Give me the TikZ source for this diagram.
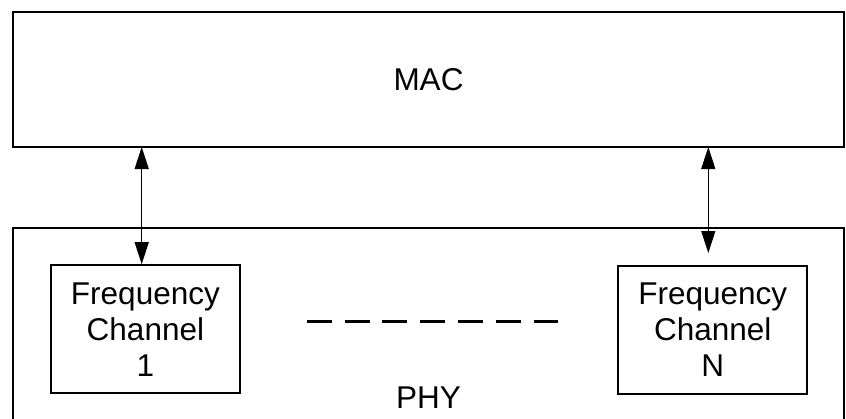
\documentclass[tikz,border=0pt]{standalone}
\usepackage{fontspec}
\setmainfont{Liberation Sans}
\usetikzlibrary{arrows.meta,positioning}
\tikzset{%
  layer/.style={rectangle,draw=black,line width=2.5pt,inner sep=0pt,minimum width=831pt},
  chan/.style={rectangle,draw=black,line width=2pt,inner sep=0pt,minimum width=189pt,minimum height=128pt,align=center,font=\fontsize{31.5}{36}\selectfont},
  link/.style={{Triangle[length=22pt,width=14pt]}-{Triangle[length=22pt,width=14pt]},line width=1.2pt},
  caption/.style={font=\fontsize{31.5}{36}\selectfont}%
}

\begin{document}
\begin{tikzpicture}[x=1pt,y=-1pt]
      \useasboundingbox (0,0) rectangle (846,418);

      \node (mac) [layer,minimum height=135pt,caption] at (428.5,79.5) {MAC};
      \node (phy) [layer,minimum height=204pt] at (428.5,330) {};
      \node (phy_label) [caption,anchor=base] at (428.5,408) {PHY};

      \node (chan_a) [chan] at (145.4,329.2) {Frequency\\Channel\\1};
      \node (chan_n) [chan] at (712.7,329.5) {Frequency\\Channel\\N};

      \coordinate (tap_a) at (141.7,147);
      \coordinate (tap_n) at (708.3,147);
      \coordinate (end_n) at (708.3,253);
      \coordinate (dots_l) at (306.7,321.7);
      \coordinate (dots_r) at (558.3,321.7);

      \draw[link] (tap_a) -- (tap_a |- chan_a.north);
      \draw[link] (tap_n) -- (end_n);

      \draw[line width=2.5pt,dash pattern=on 25pt off 12.8pt] (dots_l) -- (dots_r);
\end{tikzpicture}
\end{document}
